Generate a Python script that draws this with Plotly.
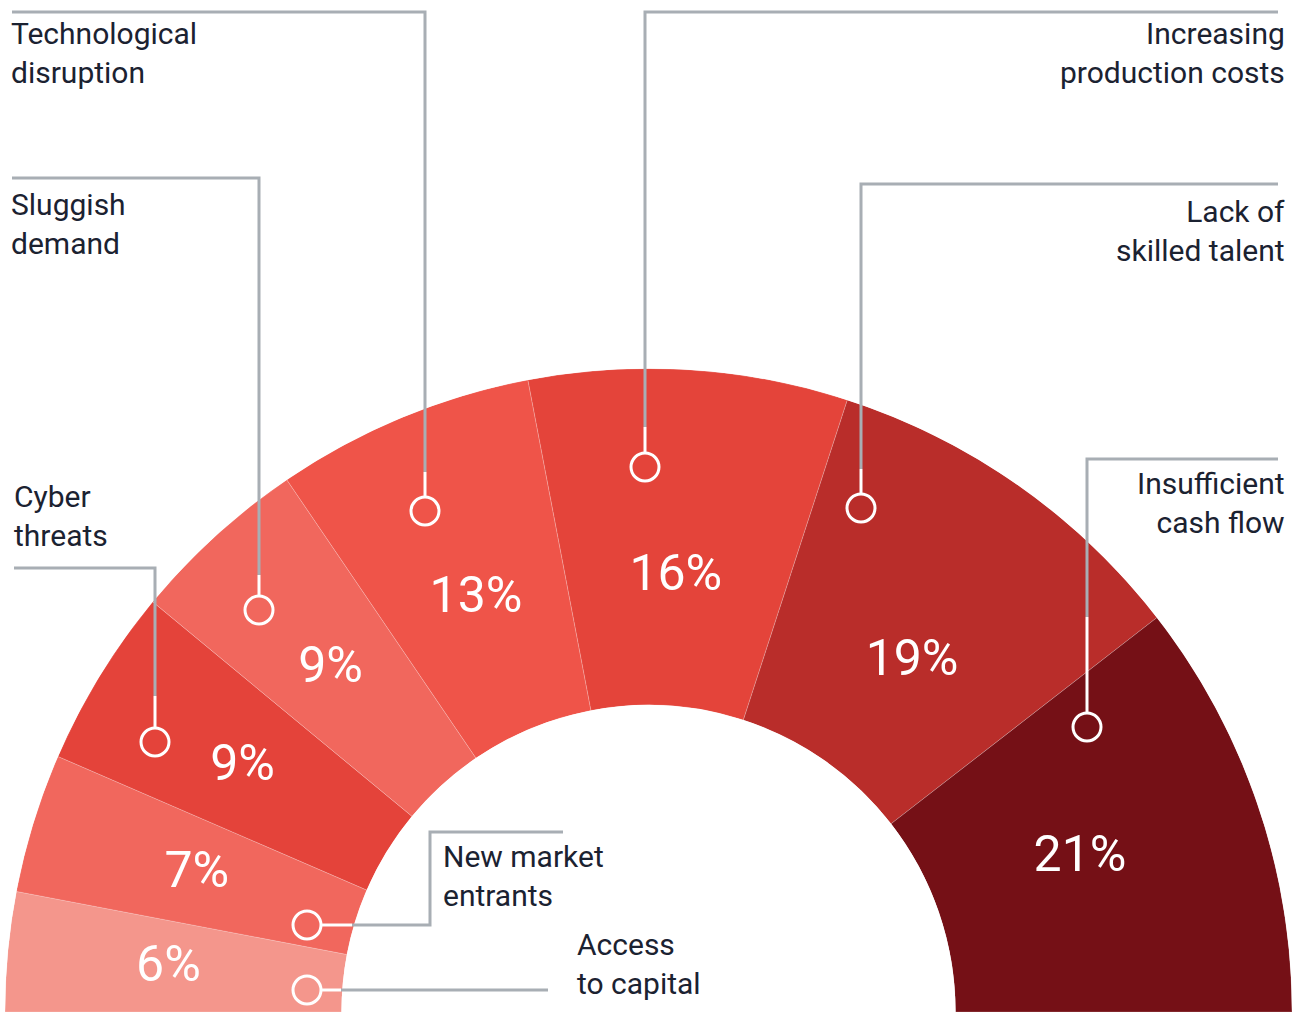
import plotly.graph_objects as go

# ---------------- data ----------------
categories = ["Access to capital", "New market entrants", "Cyber threats", "Sluggish demand",
              "Technological disruption", "Increasing production costs",
              "Lack of skilled talent", "Insufficient cash flow"]
values = [6, 7, 9, 9, 13, 16, 19, 21]
label_texts = ["Access<br>to capital", "New market<br>entrants", "Cyber<br>threats",
               "Sluggish<br>demand", "Technological<br>disruption",
               "Increasing<br>production costs", "Lack of<br>skilled talent",
               "Insufficient<br>cash flow"]

# ---------------- styles ----------------
colors = ["#F4968C", "#F1675D", "#E4433A", "#F1675D", "#EF5449", "#E4443A", "#B92D2A", "#751016"]
W, H = 1302, 1012
CX, R_OUT, R_IN = 648.5, 643.5, 307.0
pct_radius_px = [482, 472, 474, 467, 447, 435, 438, 458]
pct_theta_nudge = [0.2, 0.2, 0.4, 0.6, 0.2, 0.0, -1.9, 0.7]
GREY = "#A8AEB4"
TEXT = "#1B2231"
FONT = "Roboto"

total = sum(values)
thetas, widths = [], []
cum = 0
for v in values:
    widths.append(v / total * 180.0)
    thetas.append(180.0 - (cum + v / 2.0) / total * 180.0)
    cum += v

fig = go.Figure()
fig.add_trace(go.Barpolar(
    r=[1] * len(values), theta=thetas, width=widths,
    marker=dict(color=colors, line=dict(color="rgba(255,255,255,0.35)", width=0.6)),
    hovertext=categories, hoverinfo="text", showlegend=False,
))
fig.add_trace(go.Scatterpolar(
    r=[(p - R_IN) / (R_OUT - R_IN) for p in pct_radius_px],
    theta=[t + d for t, d in zip(thetas, pct_theta_nudge)],
    mode="text", text=[f"{v}%" for v in values],
    textfont=dict(family=FONT, size=50, color="white"),
    hoverinfo="skip", showlegend=False,
))

# ---------------- leader lines (pixel layout) ----------------
def px(x):
    return x / W

def py(y):
    return 1 - y / H

def path(points):
    return "M " + " L ".join(f"{px(x)},{py(y)}" for x, y in points)

leaders = [
    # grey polyline, white segment, circle center
    ([(548, 990), (341, 990)], [(341, 990), (321, 990)], (307, 990)),
    ([(563, 832), (430, 832), (430, 925), (352, 925)], [(352, 925), (321, 925)], (307, 925)),
    ([(14, 568), (155, 568), (155, 696)], [(155, 696), (155, 728)], (155, 742)),
    ([(12, 178), (259, 178), (259, 575)], [(259, 575), (259, 596)], (259, 610)),
    ([(12, 12), (425, 12), (425, 472)], [(425, 472), (425, 497)], (425, 511)),
    ([(1278, 12), (645, 12), (645, 427)], [(645, 427), (645, 453)], (645, 467)),
    ([(1278, 184), (861, 184), (861, 469)], [(861, 469), (861, 494)], (861, 508)),
    ([(1278, 459), (1087, 459), (1087, 617)], [(1087, 617), (1087, 713)], (1087, 727)),
]
label_pos = [
    (575, 964, "left"), (441, 875.5, "left"), (12, 516, "left"), (9, 223.5, "left"),
    (9, 53.5, "left"), (1287, 53.5, "right"), (1287, 231.5, "right"), (1287, 503.5, "right"),
]
CR = 14
shapes = []
for grey, white, (cx, cy) in leaders:
    shapes.append(dict(type="path", path=path(grey), xref="paper", yref="paper",
                       line=dict(color=GREY, width=3)))
    shapes.append(dict(type="path", path=path(white), xref="paper", yref="paper",
                       line=dict(color="white", width=3)))
    shapes.append(dict(type="circle", xref="paper", yref="paper",
                       x0=px(cx - CR), x1=px(cx + CR), y0=py(cy + CR), y1=py(cy - CR),
                       line=dict(color="white", width=3), fillcolor="rgba(0,0,0,0)"))

annotations = []
for txt, (x, y, anc) in zip(label_texts, label_pos):
    annotations.append(dict(text=txt, x=px(x), y=py(y), xref="paper", yref="paper",
                            xanchor=anc, yanchor="middle", align=anc, showarrow=False,
                            font=dict(family=FONT, size=30, color=TEXT)))

fig.update_layout(
    template="none",
    width=W, height=H,
    margin=dict(l=0, r=0, t=0, b=0),
    paper_bgcolor="white",
    polar=dict(
        domain=dict(x=[(CX - R_OUT) / W, (CX + R_OUT) / W], y=[0, R_OUT / H]),
        sector=[0, 180],
        hole=R_IN / R_OUT,
        bgcolor="rgba(0,0,0,0)",
        radialaxis=dict(range=[0, 1], visible=False, showgrid=False),
        angularaxis=dict(visible=False, showgrid=False, direction="counterclockwise", rotation=0),
    ),
    shapes=shapes,
    annotations=annotations,
    showlegend=False,
)

fig.write_html("out.html", config={"displayModeBar": False})
